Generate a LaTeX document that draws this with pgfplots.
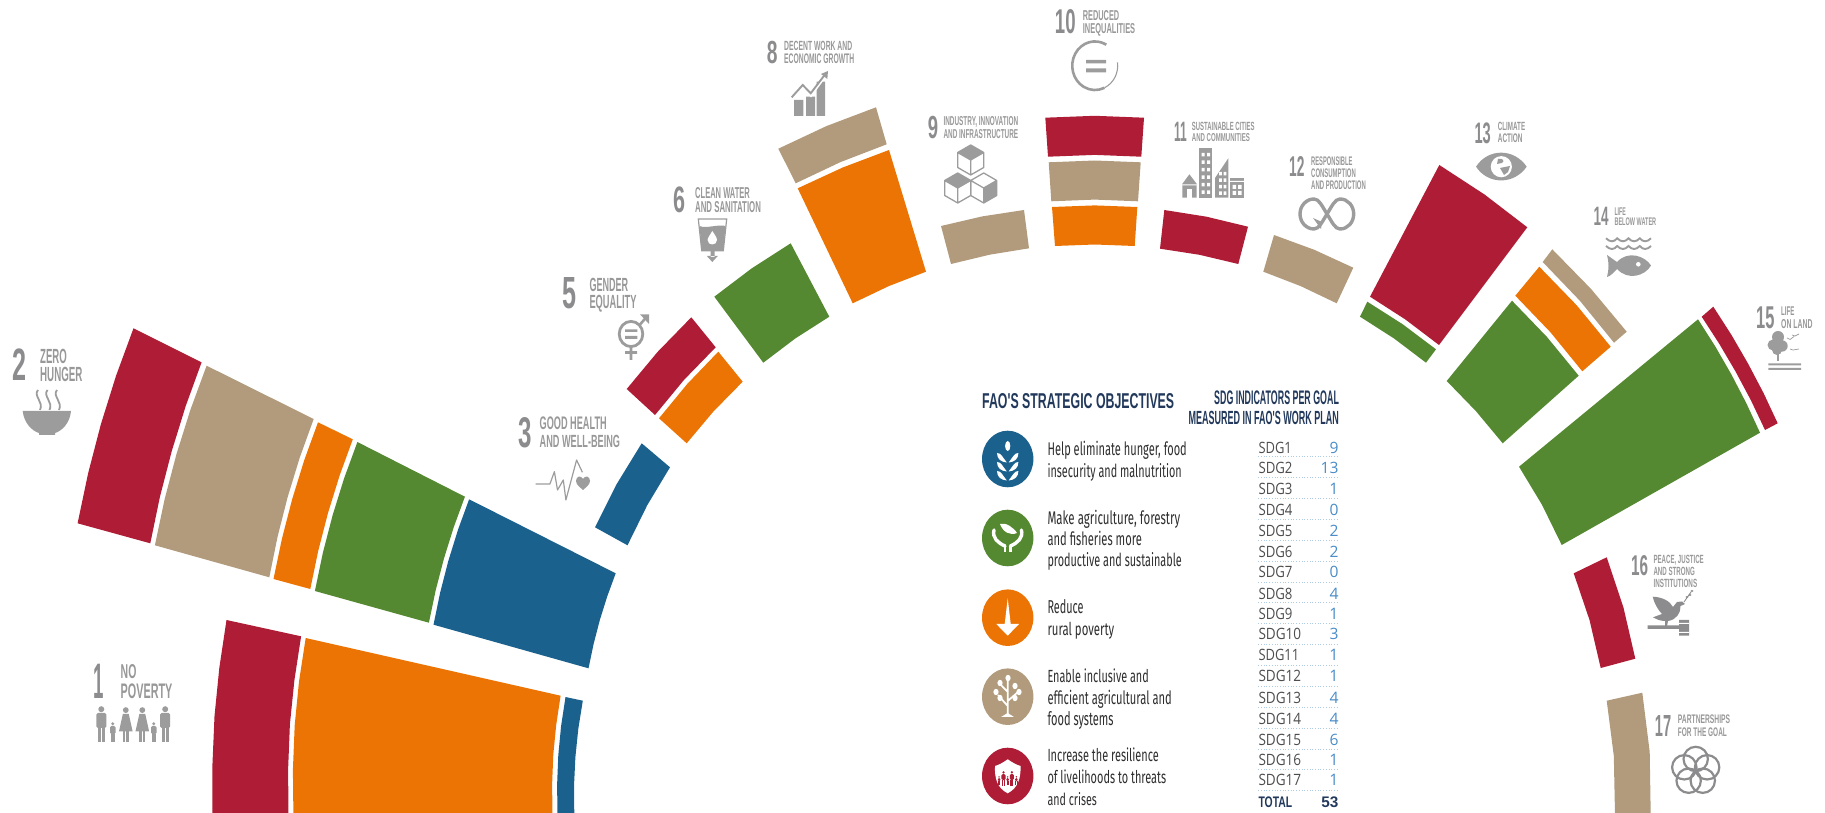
\documentclass[border=0pt]{standalone}
\usepackage{graphicx}
\usepackage{fontspec}
\usepackage{pgfplots}
\pgfplotsset{compat=1.18}
\newfontfamily\labfont{Liberation Sans}[BoldFont={Liberation Sans Bold}]
\newfontfamily\legfont{Fira Sans}
\newfontfamily\tabfont{Open Sans}
\definecolor{cred}{HTML}{AE1C35}
\definecolor{ctan}{HTML}{B19B7C}
\definecolor{corg}{HTML}{EC7404}
\definecolor{cgrn}{HTML}{548931}
\definecolor{cblu}{HTML}{1A618E}
\definecolor{gnum}{HTML}{8C8C8E}
\definecolor{glab}{HTML}{989899}
\definecolor{gico}{HTML}{9C9C9D}
\definecolor{navy}{HTML}{22395C}
\definecolor{dtxt}{HTML}{2E2E2E}
\definecolor{tval}{HTML}{4A8CC7}
\newcommand{\N}[5]{\node[anchor=base west,inner sep=0pt,text=gnum] at (#1,#2) {\resizebox{#3pt}{#4pt}{\labfont\bfseries #5}};}
\newcommand{\Lb}[5]{\node[anchor=base west,inner sep=0pt,text=glab] at (#1,#2) {\resizebox{#3pt}{#4pt}{\labfont\bfseries #5}};}
\newcommand{\Lg}[5]{\node[anchor=base west,inner sep=0pt,text=dtxt] at (#1,#2) {\resizebox{#3pt}{#4pt}{\legfont #5}};}
\newcommand{\Hd}[5]{\node[anchor=base west,inner sep=0pt,text=navy] at (#1,#2) {\resizebox{#3pt}{#4pt}{\labfont\bfseries #5}};}
\newcommand{\Row}[5]{%
 \node[anchor=base west,inner sep=0pt,text=dtxt!85] at (1258.3,#3) {\resizebox{#5pt}{11.3pt}{\tabfont #1}};
 \node[anchor=base east,inner sep=0pt,text=tval] at (1338.7,#3) {\resizebox{!}{11.3pt}{\tabfont #2}};
 \draw[tval!45,line width=.7pt,dotted] (1258.3,#4)--(1338.7,#4);}
\newcommand{\Man}[3]{\begin{scope}[shift={(#1,#2)},scale=#3/36]
 \fill (0,3.2) circle (3);
 \fill[rounded corners=1.5] (-5,7) rectangle (5,22);
 \fill (-3.7,21) rectangle (-.4,36); \fill (.4,21) rectangle (3.7,36);
 \end{scope}}
\newcommand{\Wom}[3]{\begin{scope}[shift={(#1,#2)},scale=#3/36]
 \fill (0,3.2) circle (3);
 \fill (-3,7) -- (3,7) -- (7,25) -- (-7,25) -- cycle;
 \fill (-3,24) rectangle (-.6,36); \fill (.6,24) rectangle (3,36);
 \end{scope}}
\newcommand{\Cube}[3]{\begin{scope}[shift={(#1,#2)}]
 \ifnum#3=1 \fill[gico] (0,-15) -- (13,-7.5) -- (0,0) -- (-13,-7.5) -- cycle;\fi
 \ifnum#3=2 \fill[gico] (0,0) -- (13,-7.5) -- (13,7.5) -- (0,15) -- cycle;\fi
 \draw[gico,line width=1.3pt,line join=round] (0,-15) -- (13,-7.5) -- (13,7.5) -- (0,15) -- (-13,7.5) -- (-13,-7.5) -- cycle (0,0) -- (0,15) (0,0) -- (13,-7.5) (0,0) -- (-13,-7.5);
 \end{scope}}
\begin{document}
\begin{tikzpicture}
\useasboundingbox (0pt,0pt) rectangle (1825pt,813pt);
\begin{axis}[hide axis,scale only axis,width=1825pt,height=813pt,
 xmin=0,xmax=1825,ymin=0,ymax=813,y dir=reverse,clip=true,no markers,
 every axis plot/.append style={draw=none}]
% SDG1
\addplot[fill=cred] coordinates {(226.5,620)(301.1,636.3)(294.4,680.2)(289.9,724.3)(288.1,769.6)(288.5,815)(212.3,815)(212.4,765.6)(214.5,716.2)(219.3,668)} --cycle;
\addplot[fill=corg] coordinates {(305.7,638)(560.6,695.7)(556.2,725)(553.3,754.3)(552.1,784.6)(552.5,815)(293.4,815)(292.9,770)(294.7,725.2)(299,681.5)} --cycle;
\addplot[fill=cblu] coordinates {(565.5,697)(582.8,700.7)(578.3,728.8)(575.4,756.9)(574,786)(574.3,815)(557.5,815)(557.1,785)(558.3,755)(561.1,726)} --cycle;
% SDG2
\addplot[fill=cred] coordinates {(133.5,328.3)(201.6,362.3)(185.6,406.4)(171.7,451.3)(159.9,496.9)(150.3,543.3)(77.6,523.3)(88.1,473.4)(100.9,424.2)(116,375.9)} --cycle;
\addplot[fill=ctan] coordinates {(206.6,365.7)(313.7,419)(299.75,457.6)(287.7,496.9)(277.55,536.8)(269.3,577.3)(154.9,545.3)(164.6,499.3)(176.5,454)(190.5,409.5)} --cycle;
\addplot[fill=corg] coordinates {(318,422.3)(352.8,439.3)(339.5,475.85)(328,513)(318.25,550.7)(310.3,589)(273.5,579)(281.9,538.9)(292.1,499.5)(304.1,460.6)} --cycle;
\addplot[fill=cgrn] coordinates {(357.4,442)(464.9,496.7)(453.65,527.45)(443.9,558.7)(435.65,590.45)(428.9,622.7)(314.9,591)(322.85,552.85)(332.6,515.3)(344.1,478.35)} --cycle;
\addplot[fill=cblu] coordinates {(469.1,499.3)(615.7,573.3)(607.2,596.5)(599.8,620.1)(593.6,644)(588.5,668.3)(433.5,624.7)(440.15,592.6)(448.3,561)(457.95,529.9)} --cycle;
% SDG3
\addplot[fill=cblu] coordinates {(641.7,443.3)(670,467.3)(647.2,505.3)(627.5,545.3)(595,527.3)(616.6,484.2)} --cycle;
% SDG5
\addplot[fill=cred] coordinates {(691.3,317.3)(715.7,347.3)(684,379.9)(655,415)(626.7,389)(657.6,351.9)} --cycle;
\addplot[fill=corg] coordinates {(718.3,351.7)(742.7,381.7)(713.5,411.4)(686.7,443.3)(659,418.3)(687.4,383.8)} --cycle;
% SDG6
\addplot[fill=cgrn] coordinates {(790.7,243.3)(829.3,316.7)(795.4,338.4)(763.3,362.7)(714.3,296.7)(751.5,268.5)} --cycle;
% SDG8
\addplot[fill=ctan] coordinates {(778.3,148.7)(826.4,126.1)(876,107.3)(886.7,144.3)(840.5,162.1)(795.7,183.3)} --cycle;
\addplot[fill=corg] coordinates {(797.7,188.3)(842.7,167.5)(889,150)(926,271.7)(888.8,286.1)(852.7,303.3)} --cycle;
% SDG9
\addplot[fill=ctan] coordinates {(941,226)(982.2,216.4)(1024,210)(1029,248.3)(989.7,254.7)(951,264)} --cycle;
% SDG10
\addplot[fill=cred] coordinates {(1045.3,117.7)(1094.7,115.8)(1144,117.7)(1141.3,156.7)(1094.7,154.9)(1048,156.7)} --cycle;
\addplot[fill=ctan] coordinates {(1048.7,162.3)(1094.7,160.5)(1140.7,162.3)(1138,201.3)(1094.7,199.6)(1051.3,201.3)} --cycle;
\addplot[fill=corg] coordinates {(1052,207)(1094.7,205.4)(1137.3,207)(1134.7,246)(1094.8,244.5)(1055,246)} --cycle;
% SDG11
\addplot[fill=cred] coordinates {(1164.3,210)(1206.5,216.7)(1248,226.7)(1238.3,264)(1199.5,254.8)(1160,248.7)} --cycle;
% SDG12
\addplot[fill=ctan] coordinates {(1274,235)(1314.3,249.8)(1353.3,267.7)(1336.7,303.3)(1300.6,286.1)(1263.3,271.7)} --cycle;
% SDG13
\addplot[fill=cred] coordinates {(1439.3,165)(1484.5,194.5)(1527.3,227.3)(1439,345)(1405.4,319.5)(1370,296.7)} --cycle;
\addplot[fill=cgrn] coordinates {(1367.3,301.7)(1402.6,324.2)(1436,349.3)(1426,362.7)(1393.9,338.4)(1360,316.7)} --cycle;
% SDG14
\addplot[fill=ctan] coordinates {(1552.3,249.3)(1591.1,289)(1626.7,331.7)(1614,342.7)(1579.9,300.8)(1542.7,262)} --cycle;
\addplot[fill=corg] coordinates {(1539.3,266.7)(1576.6,305.2)(1610.7,346.7)(1582.3,371.3)(1550.3,332.1)(1515.3,295.7)} --cycle;
\addplot[fill=cgrn] coordinates {(1512,300.7)(1546.8,336.8)(1578.7,375.7)(1502.7,443.3)(1475.9,411.1)(1446.7,381)} --cycle;
% SDG15
\addplot[fill=cred] coordinates {(1713.3,306.7)(1731.3,334.7)(1748,363.5)(1763.5,393)(1777.7,423.3)(1765,430)(1751,400.5)(1735.7,371.8)(1719.3,343.9)(1701.7,316.7)} --cycle;
\addplot[fill=cgrn] coordinates {(1698,319.3)(1715.3,346.5)(1731.4,374.5)(1746.3,403.2)(1760,432.7)(1561.7,545)(1542,504.8)(1519,466.7)} --cycle;
% SDG16
\addplot[fill=cred] coordinates {(1606.7,557.3)(1623.4,607.3)(1635.3,658.7)(1600.7,668)(1589.5,620)(1573.7,573.3)} --cycle;
% SDG17
\addplot[fill=ctan] coordinates {(1642.3,692.7)(1649.7,752)(1650.7,815)(1615,815)(1613.8,756)(1606.7,700.7)} --cycle;
\end{axis}
\begin{scope}[x=1pt,y=-1pt,shift={(0pt,813pt)}]
% ---- labels
\N{93}{698.3}{10.4}{34.3}{1}\Lb{120.5}{678.3}{15.7}{14}{NO}\Lb{120.5}{699}{51.7}{14.7}{POVERTY}
\N{12.3}{380.7}{14}{31.7}{2}\Lb{40}{363.3}{26.7}{14.3}{ZERO}\Lb{40}{381.7}{42.3}{14.3}{HUNGER}
\N{518.5}{447.3}{13.4}{30}{3}\Lb{539.5}{430}{67}{12.7}{GOOD HEALTH}\Lb{539.5}{447.7}{80.4}{12.3}{AND WELL-BEING}
\N{562.7}{308.3}{14}{31}{5}\Lb{589.3}{291.7}{38.7}{13.3}{GENDER}\Lb{589.3}{309}{47}{13.3}{EQUALITY}
\N{673.3}{212.3}{12}{25.7}{6}\Lb{695}{198.7}{54.7}{11}{CLEAN WATER}\Lb{695}{213}{65.7}{11}{AND SANITATION}
\N{766.7}{64}{10.7}{22.3}{8}\Lb{784}{51}{68}{9.3}{DECENT WORK AND}\Lb{784}{64}{70}{9.7}{ECONOMIC GROWTH}
\N{927.7}{139}{10.3}{22.3}{9}\Lb{943.3}{125.7}{74.7}{9}{INDUSTRY, INNOVATION}\Lb{943.3}{139}{74.7}{9}{AND INFRASTRUCTURE}
\N{1054.7}{34}{20.7}{24}{10}\Lb{1082.7}{20.3}{36.3}{10}{REDUCED}\Lb{1082.7}{34}{52.3}{10}{INEQUALITIES}
\N{1174}{141.7}{12.7}{19.3}{11}\Lb{1191.7}{130.7}{62.7}{8.3}{SUSTAINABLE CITIES}\Lb{1191.7}{142}{58}{8}{AND COMMUNITIES}
\N{1289}{176.7}{15.3}{20}{12}\Lb{1311}{165.3}{41.3}{8.7}{RESPONSIBLE}\Lb{1311}{177.3}{44.7}{8.7}{CONSUMPTION}\Lb{1311}{189.7}{54.7}{8.7}{AND PRODUCTION}
\N{1474.3}{143.3}{16.3}{20.7}{13}\Lb{1497.7}{131}{27.3}{8.3}{CLIMATE}\Lb{1497.7}{142.7}{24.7}{8.7}{ACTION}
\N{1593.3}{226}{15}{18.3}{14}\Lb{1614.3}{215.3}{11.3}{7.7}{LIFE}\Lb{1614.3}{226}{41.7}{7.7}{BELOW WATER}
\N{1756}{329}{18.3}{21.7}{15}\Lb{1781}{316}{13.3}{8.7}{LIFE}\Lb{1781}{329}{31.3}{9}{ON LAND}
\N{1631}{575.3}{17}{20}{16}\Lb{1653.3}{563.7}{50.3}{8.3}{PEACE, JUSTICE}\Lb{1653.3}{575.7}{41.3}{8.3}{AND STRONG}\Lb{1653.3}{587.7}{43.7}{8.3}{INSTITUTIONS}
\N{1654.7}{736.7}{16.3}{21}{17}\Lb{1677.7}{724}{52.3}{8.7}{PARTNERSHIPS}\Lb{1677.7}{736.7}{49}{8.7}{FOR THE GOAL}
% ---- header and legend text
\Hd{982}{408.3}{192}{15}{FAO'S STRATEGIC OBJECTIVES}
\Hd{1214}{404.3}{124.7}{13.7}{SDG INDICATORS PER GOAL}
\Hd{1188.3}{425}{150.3}{13.3}{MEASURED IN FAO'S WORK PLAN}
\Lg{1047.3}{456}{139.3}{14.3}{Help eliminate hunger, food}
\Lg{1047.3}{477.3}{134.3}{14}{insecurity and malnutrition}
\Lg{1047.3}{524.3}{132.7}{14.3}{Make agriculture, forestry}
\Lg{1047.3}{546}{94.3}{14.3}{and fisheries more}
\Lg{1047.3}{566.7}{134.3}{14}{productive and sustainable}
\Lg{1047.3}{614}{36}{14}{Reduce}
\Lg{1047.3}{636}{66.7}{13.3}{rural poverty}
\Lg{1047.3}{682.7}{101.3}{13.7}{Enable inclusive and}
\Lg{1047.3}{704.3}{124.3}{14.3}{efficient agricultural and}
\Lg{1047.3}{725.7}{66}{14}{food systems}
\Lg{1047.3}{762}{111.3}{13.7}{Increase the resilience}
\Lg{1047.3}{783.7}{118.7}{13.7}{of livelihoods to threats}
\Lg{1047.3}{805.7}{49.3}{13}{and crises}
% ---- table
\Row{SDG1}{9}{453.3}{456.7}{33.3}
\Row{SDG2}{13}{473.7}{477.3}{34}
\Row{SDG3}{1}{494.3}{498.3}{34}
\Row{SDG4}{0}{515.3}{519.3}{34}
\Row{SDG5}{2}{536.3}{540.3}{34}
\Row{SDG6}{2}{557.3}{561.3}{34}
\Row{SDG7}{0}{578}{582}{34}
\Row{SDG8}{4}{599.3}{602.7}{34}
\Row{SDG9}{1}{619.3}{623.7}{34}
\Row{SDG10}{3}{640}{644.3}{42.7}
\Row{SDG11}{1}{661}{665.3}{40.7}
\Row{SDG12}{1}{682}{686.3}{42.7}
\Row{SDG13}{4}{703.3}{707.3}{42.7}
\Row{SDG14}{4}{724.3}{728.3}{42.7}
\Row{SDG15}{6}{745.3}{749}{42.7}
\Row{SDG16}{1}{765.3}{769.3}{42.7}
\Row{SDG17}{1}{786}{790.3}{42.7}
\Hd{1258.3}{807.3}{33.7}{10.7}{TOTAL}
\node[anchor=base east,inner sep=0pt,text=navy] at (1338.7,807.3) {\resizebox{!}{10.7pt}{\labfont\bfseries 53}};
% ---- legend icons
\fill[cblu] (1007.7,459) ellipse (25.7 and 28.3);
\fill[cgrn] (1007.7,538) ellipse (25.7 and 28.3);
\fill[corg] (1007.7,617.7) ellipse (25.7 and 28.3);
\fill[ctan] (1007.7,696.7) ellipse (25.7 and 28.3);
\fill[cred] (1007.7,776) ellipse (25.7 and 28.3);
% wheat
\begin{scope}[white]
\fill (1007.7,446) ellipse (2.6 and 5);
\foreach \yy in {456,465,474}{
 \fill (1002,\yy) -- (1006.8,\yy+6.5) .. controls (1001,\yy+6) and (997,\yy+3) .. (997,\yy-3) .. controls (999,\yy-3) and (1001,\yy-2) .. (1002,\yy) -- cycle;
 \fill (1013.4,\yy) -- (1008.6,\yy+6.5) .. controls (1014.4,\yy+6) and (1018.4,\yy+3) .. (1018.4,\yy-3) .. controls (1016.4,\yy-3) and (1014.4,\yy-2) .. (1013.4,\yy) -- cycle;}
\end{scope}
% hands + leaf
\fill[white] (1000,524) .. controls (1006,522) and (1014,528) .. (1017,533) .. controls (1010,536) and (1003,532) .. (1000,524) -- cycle;
\draw[white,line width=3.4pt,line cap=round] (994,530) .. controls (992,538) and (998,543) .. (1005,546) (1021.4,530) .. controls (1023.4,538) and (1017.4,543) .. (1010.4,546);
\draw[white,line width=2.6pt] (1005,546)--(1005,552) (1010.4,546)--(1010.4,552);
% arrow
\fill[white] (1007.7,598.3) -- (1010.7,624) -- (1019,624) -- (1007.7,635.7) -- (996.3,624) -- (1004.7,624) -- cycle;
% tree
\draw[white,line width=1.7pt] (1007.7,716) -- (1007.7,680) (1007.7,706) -- (998,695) (1007.7,701) -- (1018,692) (1007.7,692) -- (1001,685);
\foreach \xx/\yy in {1008/678,1000/683,1015/686,996/692,1019/692,1000/698,1015/698}{\fill[white] (\xx,\yy) ellipse (2.6 and 3.2);}
\fill[white] (1001,717) -- (1014,717) -- (1007.7,713) -- cycle;
% shield
\fill[white] (1007.7,759.3) .. controls (1013,763) and (1017,765) .. (1020.5,766) .. controls (1021,778) and (1018,788) .. (1007.7,793.3) .. controls (997,788) and (994.5,778) .. (995,766) .. controls (998.5,765) and (1002.5,763) .. (1007.7,759.3) -- cycle;
\begin{scope}[cred]
\Man{1003.5}{771}{15}\Man{1011.9}{771}{15}\Man{1007.7}{776}{9}\Man{999}{776}{9}\Man{1016.4}{776}{9}
\end{scope}
% ---- SDG icons
\begin{scope}[gico]
% 1 people
\Man{101.3}{706}{36}\Man{112.8}{722}{20}\Wom{125.8}{707}{35}\Wom{142.3}{707}{35}\Man{153.8}{722}{20}\Man{165.2}{706}{36}
% 2 bowl
\fill (22.7,411) -- (71,411) .. controls (70,423) and (62,431) .. (55,433) -- (55,435) -- (39,435) -- (39,433) .. controls (32,431) and (24,423) .. (22.7,411) -- cycle;
\foreach \dx in {0,9.5,19}{\draw[line width=1.8pt] (38+\dx,390) .. controls (33+\dx,396) and (44+\dx,402) .. (40+\dx,410);}
% 3 pulse
\draw[line width=1.2pt,line join=round] (535.7,484) -- (549.9,484) -- (554.4,471.7) -- (557.5,490) -- (563.3,480) -- (565.9,500) -- (576.6,460) -- (582.4,472.3);
\begin{scope}[shift={(583,482)}]\fill (0,-3) .. controls (2,-7) and (7,-6) .. (7,-1) .. controls (7,3) and (2,6) .. (0,8) .. controls (-2,6) and (-7,3) .. (-7,-1) .. controls (-7,-6) and (-2,-7) .. (0,-3) -- cycle;\end{scope}
% 5 gender
\draw[line width=2.8pt] (631,334) ellipse (11.8 and 12.6);
\fill (625,329.3) rectangle (637.3,332) (625,336) rectangle (637.3,339);
\draw[line width=2.6pt] (631,347) -- (631,360) (625,352.5) -- (637,352.5) (640,324.5) -- (647.5,316);
\fill (640,314.3) -- (649,314.3) -- (649,324) -- cycle;
% 6 water
\draw[line width=1.2pt] (698.3,219) -- (726.7,219) -- (723.3,250.7) -- (701.7,250.7) -- cycle;
\fill (699.5,226) .. controls (706,229) and (718,224) .. (725.5,226) -- (723.3,250.7) -- (701.7,250.7) -- cycle;
\fill[white] (712.3,231) .. controls (715,235) and (717,238) .. (717,240) .. controls (717,246) and (707.6,246) .. (707.6,240) .. controls (707.6,238) and (710,235) .. (712.3,231) -- cycle;
\fill (710.5,250) rectangle (714.5,257) (706.8,256) -- (717.8,256) -- (712.3,262) -- cycle;
% 8 growth
\fill (794,100) rectangle (803.3,116) (806,96.7) rectangle (815,116) (816.7,81.7) rectangle (825,116);
\draw[line width=1.9pt,white] (792,100) -- (803,88) -- (811,96) -- (827,74);
\draw[line width=1.9pt] (791.7,97.3) -- (802.7,85) -- (810.7,93.3) -- (825,74.5);
\fill (821,74) -- (828,71) -- (827.3,79) -- cycle;
% 9 cubes
\Cube{970.7}{160}{1}\Cube{957.7}{188}{1}\Cube{983.7}{188}{2}
% 10 reduced
\draw[line width=2.6pt] (1106.3,44.7) arc (-60:-295:22.7 and 24.3);
\draw[line width=1.1pt] (1104.6,87.7) arc (-295:-368:22.7 and 24.3);
\fill (1086,60) rectangle (1106,63.5) (1086,68.5) rectangle (1106,72.3);
% 11 cities
\fill (1199,148.3) rectangle (1212.3,197.7);
\foreach \yy in {153,160.5,168,175.5,183,190.5}{\fill[white] (1201.5,\yy) rectangle (1204.5,\yy+3.5) (1207,\yy) rectangle (1210,\yy+3.5);}
\fill (1228.3,158.3) -- (1228.3,197.7) -- (1215,197.7) -- (1215,178) -- cycle;
\foreach \yy in {172,178.5,185,191.5}{\fill[white] (1219,\yy) rectangle (1221.8,\yy+3.5) (1223.5,\yy) rectangle (1226.3,\yy+3.5);}
\fill (1230,178.3) rectangle (1244,197.7);
\fill[white] (1230,181) rectangle (1244,182) (1232.5,185) rectangle (1236,189) (1238,185) rectangle (1241.5,189) (1232.5,191) rectangle (1236,195) (1238,191) rectangle (1241.5,195);
\fill (1189.4,174.3) -- (1197,184.3) -- (1182,184.3) -- cycle (1182.3,185.5) rectangle (1196.7,197.7);
\fill[white] (1187.3,189) rectangle (1191.5,197.7);
% 12 infinity
\draw[line width=3.4pt] (1327,214) .. controls (1322,206) and (1319,199) .. (1314,199) .. controls (1306,199) and (1300,206) .. (1300,214) .. controls (1300,222) and (1306,229) .. (1314,229) .. controls (1319,229) and (1322,222) .. (1327,214) .. controls (1332,206) and (1335,199) .. (1340,199) .. controls (1348,199) and (1353.7,206) .. (1353.7,214) .. controls (1353.7,222) and (1348,229) .. (1340,229) .. controls (1335,229) and (1332,222) .. (1327,214) -- cycle;
\fill (1313,218) -- (1322,222) -- (1321,229) -- cycle;
% 13 eye
\fill (1476,166.7) .. controls (1488,148) and (1514,148) .. (1526.7,166.7) .. controls (1514,185) and (1488,185) .. (1476,166.7) -- cycle;
\fill[white] (1501.3,166.7) circle (10.6);
\fill (1498,159) .. controls (1503,158) and (1505,161) .. (1502,163) -- (1497,164) -- cycle (1500,168) -- (1510,166) -- (1508,172) -- (1504,175) -- cycle;
% 14 water
\foreach \yy in {238.3,246}{\draw[line width=1.9pt] (1606,\yy) .. controls (1610,\yy+4) and (1614,\yy+4) .. (1617.2,\yy) .. controls (1621,\yy+4) and (1625,\yy+4) .. (1628.5,\yy) .. controls (1632,\yy+4) and (1636,\yy+4) .. (1639.8,\yy) .. controls (1643,\yy+4) and (1647,\yy+4) .. (1651,\yy);}
\fill (1651,265.5) .. controls (1645,256) and (1628,250) .. (1617,262) .. controls (1614,260) and (1610,257) .. (1607,255) .. controls (1609,262) and (1609,270) .. (1607,277) .. controls (1611,276) and (1614,272) .. (1617,269) .. controls (1628,281) and (1645,276) .. (1651,265.5) -- cycle;
\fill[white] (1638.3,264.3) circle (2.3);
% 15 land
\fill (1778,337) circle (6) (1773,345) circle (5.5) (1782,346) circle (5.7) (1777,350) circle (5);
\fill (1777,353) rectangle (1779,361);
\fill (1768.3,363.5) rectangle (1801,365.5) (1768.3,368) rectangle (1801,370);
\draw[line width=.7pt] (1787,338) -- (1790,339.5) -- (1794,336.5) (1792,335) -- (1795,336) -- (1799,334) (1790,349) -- (1793,350) -- (1799,349);
% 16 peace
\begin{scope}[gnum]
\fill (1652.7,596.7) .. controls (1662,597) and (1670,601) .. (1673,607) -- (1677,602) -- (1682,601.5) -- (1685,604) -- (1680.5,606) .. controls (1681,613) and (1676,620) .. (1668,621) -- (1667,626) -- (1665,626) -- (1665,621) .. controls (1660,621) and (1656,619) .. (1653,617.3) -- (1662,614) .. controls (1658,610) and (1654,603) .. (1652.7,596.7) -- cycle;
\fill (1647.7,625.5) rectangle (1680,629) (1679,620) rectangle (1689,635.7);
\fill[white] (1679,623) rectangle (1689,624) (1679,632) rectangle (1689,633);
\draw[line width=.9pt] (1684,602) -- (1691,592);
\foreach \xx/\yy in {1687/597,1690/595,1692/591}{\fill (\xx,\yy) ellipse (1.6 and 1);}
\foreach \a in {90,162,234,306,18}{\draw[line width=2.2pt] (1695.7,771) ++(\a:12 and -12) circle (12.2);}
\end{scope}
\end{scope}
\end{scope}
\end{tikzpicture}
\end{document}
